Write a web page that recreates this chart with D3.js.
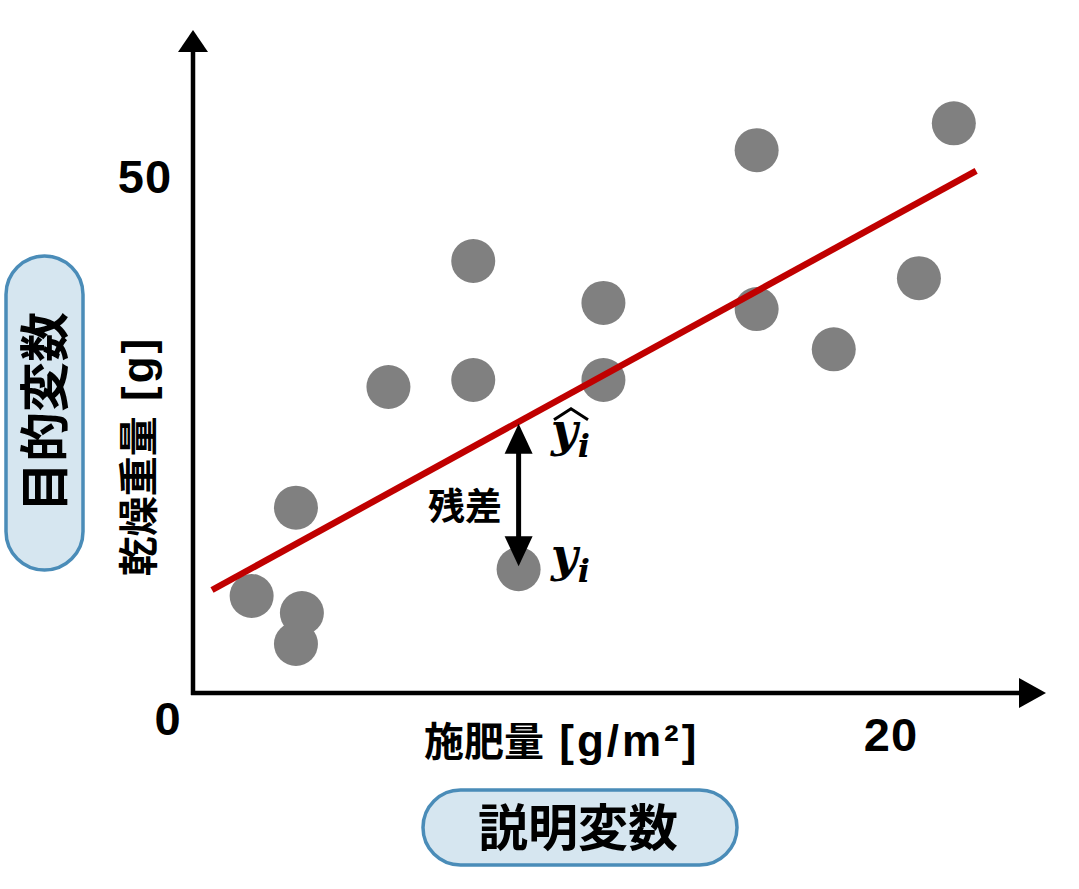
<!DOCTYPE html>
<html>
<head>
<meta charset="utf-8">
<script src="https://cdn.jsdelivr.net/npm/d3@7"></script>
<style>
  body { margin: 0; background: #fff; }
  svg { display: block; }
</style>
</head>
<body>
<div id="chart"></div>
<script>
// data
const xs = [1.68, 2.95, 3.12, 2.95, 5.6, 8.03, 8.03, 9.33, 11.76, 11.76, 16.15, 16.15, 18.36, 20.8, 21.8];
const ys = [9.4, 17.96, 7.75, 4.75, 29.65, 41.86, 30.33, 12.0, 37.8, 30.33, 52.6, 37.2, 33.3, 40.2, 55.2];
const fitX = [0.545, 22.44];
const fitY = [9.98, 50.6];
const residualIndex = 7;
const xTicks = [20];
const yTicks = [50];
const xLabel = ['施肥量', ' [g/m²]'];
const yLabel = ['乾燥重量', ' [g]'];
const xTag = '説明変数';
const yTag = '目的変数';
const residualLabel = '残差';

const W = 1079, H = 889;
const ox = 193, oy = 693;
const jp = '"Noto Sans CJK JP", "Noto Sans", sans-serif';
const latin = '"Liberation Sans", Arial, sans-serif';

const svg = d3.select('#chart').append('svg')
  .attr('width', W)
  .attr('height', H);

const x = d3.scaleLinear().domain([0, 20]).range([ox, 891]);
const y = d3.scaleLinear().domain([0, 50]).range([oy, 177]);

// axes with arrow heads
svg.append('line')
  .attr('x1', ox).attr('y1', oy + 2)
  .attr('x2', ox).attr('y2', 50)
  .attr('stroke', '#000').attr('stroke-width', 4.5);
svg.append('path')
  .attr('d', `M${ox - 15},${52} L${ox},${30} L${ox + 15},${52} Z`)
  .attr('fill', '#000');
svg.append('line')
  .attr('x1', ox - 2).attr('y1', oy)
  .attr('x2', 1022).attr('y2', oy)
  .attr('stroke', '#000').attr('stroke-width', 4.5);
svg.append('path')
  .attr('d', `M1019,${oy - 15} L1046,${oy} L1019,${oy + 15} Z`)
  .attr('fill', '#000');

// tick labels
const tickAttrs = s => s
  .attr('text-anchor', 'middle')
  .attr('font-family', latin).attr('font-size', 47).attr('font-weight', 700)
  .attr('letter-spacing', 1);
svg.append('text')
  .attr('x', 168).attr('y', 735)
  .call(tickAttrs)
  .text('0');
svg.selectAll('.ytick').data(yTicks).join('text')
  .attr('class', 'ytick')
  .attr('x', 145).attr('y', d => y(d) + 16)
  .call(tickAttrs)
  .text(d => d);
svg.selectAll('.xtick').data(xTicks).join('text')
  .attr('class', 'xtick')
  .attr('x', d => x(d)).attr('y', oy + 58)
  .call(tickAttrs)
  .text(d => d);

// axis titles: CJK part bold, unit part in a latin face
function titleText(sel, parts) {
  sel.append('tspan')
    .attr('font-family', jp).attr('font-size', 40).attr('font-weight', 700)
    .text(parts[0]);
  sel.append('tspan')
    .attr('font-family', latin).attr('font-size', 44).attr('font-weight', 700)
    .attr('letter-spacing', 3)
    .text(parts[1]);
}
titleText(svg.append('text').attr('x', 424).attr('y', 756), xLabel);
titleText(svg.append('text')
  .attr('transform', 'translate(153,456) rotate(-90)')
  .attr('text-anchor', 'middle'), yLabel);

// pills
svg.append('rect')
  .attr('x', 423).attr('y', 790).attr('width', 314).attr('height', 75)
  .attr('rx', 37.5)
  .attr('fill', '#d6e6f0').attr('stroke', '#4a8cb8').attr('stroke-width', 3.5);
svg.append('text')
  .attr('x', 578).attr('y', 846)
  .attr('text-anchor', 'middle')
  .attr('font-family', jp).attr('font-size', 50).attr('font-weight', 700)
  .text(xTag);
svg.append('rect')
  .attr('x', 6).attr('y', 256).attr('width', 77).attr('height', 314)
  .attr('rx', 38.5)
  .attr('fill', '#d6e6f0').attr('stroke', '#4a8cb8').attr('stroke-width', 3.5);
svg.append('text')
  .attr('transform', 'translate(63,412) rotate(-90)')
  .attr('text-anchor', 'middle')
  .attr('font-family', jp).attr('font-size', 50).attr('font-weight', 700)
  .text(yTag);

// points
const pts = xs.map((v, i) => ({ x: v, y: ys[i] }));
svg.selectAll('.pt').data(pts).join('circle')
  .attr('class', 'pt')
  .attr('cx', d => x(d.x))
  .attr('cy', d => y(d.y))
  .attr('r', 22)
  .attr('fill', '#808080');

// regression line
svg.append('line')
  .attr('x1', x(fitX[0])).attr('y1', y(fitY[0]))
  .attr('x2', x(fitX[1])).attr('y2', y(fitY[1]))
  .attr('stroke', '#c00000').attr('stroke-width', 6.5);

// residual arrow
const rp = pts[residualIndex];
const slope = (fitY[1] - fitY[0]) / (fitX[1] - fitX[0]);
const yHat = fitY[0] + slope * (rp.x - fitX[0]);
const ax = x(rp.x), aTop = y(yHat) + 2, aBot = y(rp.y) - 3;
svg.append('line')
  .attr('x1', ax).attr('y1', aTop + 25)
  .attr('x2', ax).attr('y2', aBot - 25)
  .attr('stroke', '#000').attr('stroke-width', 5);
svg.append('path')
  .attr('d', `M${ax - 14},${aTop + 30} L${ax},${aTop} L${ax + 14},${aTop + 30} Z`)
  .attr('fill', '#000');
svg.append('path')
  .attr('d', `M${ax - 14},${aBot - 30} L${ax},${aBot} L${ax + 14},${aBot - 30} Z`)
  .attr('fill', '#000');
svg.append('text')
  .attr('x', 465).attr('y', 520)
  .attr('text-anchor', 'middle')
  .attr('font-family', jp).attr('font-size', 37).attr('font-weight', 700)
  .text(residualLabel);

// math labels
const mathFont = '"DejaVu Serif", "Liberation Serif", serif';
function mathLabel(px, py, hat) {
  const t = svg.append('text')
    .attr('x', px).attr('y', py)
    .attr('font-family', mathFont).attr('font-style', 'italic').attr('font-weight', 700)
    .attr('font-size', 46);
  t.append('tspan').text('y');
  t.append('tspan').attr('font-size', 32).attr('dx', 0).attr('dy', 11).text('i');
  if (hat) {
    svg.append('path')
      .attr('d', `M${px + 3},${py - 26} L${px + 20},${py - 37} L${px + 37},${py - 26}`)
      .attr('fill', 'none').attr('stroke', '#000').attr('stroke-width', 3);
  }
}
mathLabel(551, y(yHat) + 24, true);
mathLabel(551, y(rp.y) + 2, false);
</script>
</body>
</html>
